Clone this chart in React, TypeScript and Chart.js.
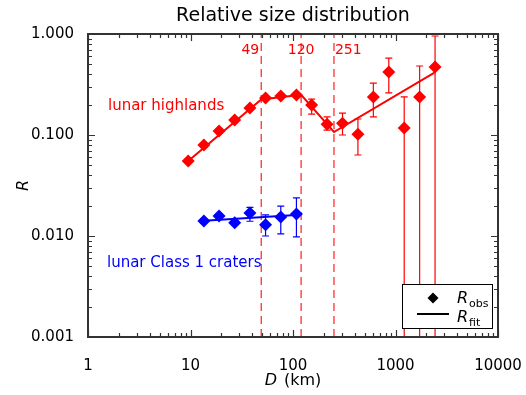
import React, { useEffect, useRef } from 'react';
import { Chart, registerables } from 'chart.js';

Chart.register(...registerables);

// ---- data ----
const diameters = [9.5, 13.5, 19, 27, 38, 54, 76, 108, 152, 215, 304, 430, 608, 860, 1216, 1720, 2432];
const highlandsR = [0.0553, 0.0796, 0.1096, 0.141, 0.185, 0.232, 0.243, 0.249, 0.198, 0.128, 0.131, 0.102, 0.238, 0.421, 0.117, 0.238, 0.471];
const highlandsLo = [0.053, 0.076, 0.105, 0.136, 0.179, 0.225, 0.236, 0.241, 0.161, 0.112, 0.100, 0.0634, 0.151, 0.261, 0.00001, 0.00001, 0.00001];
const highlandsHi = [0.058, 0.083, 0.114, 0.146, 0.191, 0.239, 0.250, 0.257, 0.227, 0.151, 0.165, 0.144, 0.327, 0.578, 0.238, 0.482, 0.955];

const class1D = [13.5, 19, 27, 38, 54, 76, 108];
const class1R = [0.0141, 0.0158, 0.0135, 0.0169, 0.0129, 0.0154, 0.0165];
const class1Lo = [0.0135, 0.0151, 0.0129, 0.0140, 0.0100, 0.0105, 0.0098];
const class1Hi = [0.0148, 0.0166, 0.0142, 0.0192, 0.0162, 0.0198, 0.0238];

const highlandsFitD = [9.5, 49, 120, 251, 2400];
const highlandsFitR = [0.0553, 0.225, 0.25, 0.107, 0.415];
const class1FitD = [12.4, 117];
const class1FitR = [0.0141, 0.0162];

const breakD = [49, 120, 251];
const breakLabels = ['49', '120', '251'];

const xTickValues = [1, 10, 100, 1000, 10000];
const xTickLabels = ['1', '10', '100', '1000', '10000'];
const yTickValues = [0.001, 0.01, 0.1, 1];
const yTickLabels = ['0.001', '0.010', '0.100', '1.000'];

const RED = '#ff0000';
const BLUE = '#0000ff';
const AXIS = '#333333';
const FONT = '"DejaVu Sans", sans-serif';

const logTicks = (decades: number[]) => {
  const out: { value: number }[] = [];
  for (let i = 0; i < decades.length - 1; i++) {
    for (let k = 1; k <= 9; k++) out.push({ value: k * decades[i] });
  }
  out.push({ value: decades[decades.length - 1] });
  return out;
};

const labelFor = (values: number[], labels: string[]) => (v: number | string) => {
  const n = Number(v);
  const i = values.findIndex((t) => Math.abs(Math.log10(t) - Math.log10(n)) < 1e-6);
  return i >= 0 ? labels[i] : '';
};

const isMajor = (v: number) => Math.abs(Math.log10(v) - Math.round(Math.log10(v))) < 1e-6;

const pts = (xs: number[], ys: number[]) => xs.map((x, i) => ({ x, y: ys[i] }));

const overlay = {
  id: 'overlay',
  beforeDatasetsDraw(chart: any) {
    const { ctx, chartArea: a, scales } = chart;
    const x = scales.x, y = scales.y;
    ctx.save();
    ctx.beginPath();
    ctx.rect(a.left, a.top, a.right - a.left, a.bottom - a.top);
    ctx.clip();
    const drawErr = (ds: number[], lo: number[], hi: number[], color: string) => {
      ctx.strokeStyle = color;
      ctx.lineWidth = 1.2;
      ds.forEach((d, i) => {
        const px = x.getPixelForValue(d);
        const p1 = y.getPixelForValue(lo[i]);
        const p2 = y.getPixelForValue(hi[i]);
        ctx.beginPath();
        ctx.moveTo(px, p1);
        ctx.lineTo(px, p2);
        ctx.moveTo(px - 3.5, p1);
        ctx.lineTo(px + 3.5, p1);
        ctx.moveTo(px - 3.5, p2);
        ctx.lineTo(px + 3.5, p2);
        ctx.stroke();
      });
    };
    drawErr(diameters, highlandsLo, highlandsHi, RED);
    drawErr(class1D, class1Lo, class1Hi, BLUE);
    ctx.restore();
  },
  afterDraw(chart: any) {
    const { ctx, chartArea: a, scales } = chart;
    const x = scales.x, y = scales.y;
    ctx.save();
    // frame
    ctx.strokeStyle = AXIS;
    ctx.lineWidth = 2;
    ctx.strokeRect(a.left, a.top, a.right - a.left, a.bottom - a.top);
    // ticks
    ctx.lineWidth = 1.2;
    ctx.beginPath();
    x.ticks.forEach((t: any) => {
      const px = Math.round(x.getPixelForValue(t.value)) + 0.5;
      const len = isMajor(t.value) ? 7 : 4;
      ctx.moveTo(px, a.bottom);
      ctx.lineTo(px, a.bottom - len);
      ctx.moveTo(px, a.top);
      ctx.lineTo(px, a.top + len);
    });
    y.ticks.forEach((t: any) => {
      const py = Math.round(y.getPixelForValue(t.value)) + 0.5;
      const len = isMajor(t.value) ? 7 : 4;
      ctx.moveTo(a.left, py);
      ctx.lineTo(a.left + len, py);
      ctx.moveTo(a.right, py);
      ctx.lineTo(a.right - len, py);
    });
    ctx.stroke();

    // title
    ctx.fillStyle = '#000';
    ctx.textAlign = 'center';
    ctx.textBaseline = 'alphabetic';
    ctx.font = `19px ${FONT}`;
    ctx.fillText('Relative size distribution', (a.left + a.right) / 2, 21);

    // y title
    ctx.save();
    ctx.translate(28, (a.top + a.bottom) / 2);
    ctx.rotate(-Math.PI / 2);
    ctx.font = `italic 16px ${FONT}`;
    ctx.fillText('R', 0, 0);
    ctx.restore();

    // x title
    ctx.textAlign = 'left';
    ctx.font = `italic 16px ${FONT}`;
    const wD = ctx.measureText('D').width + 7;
    ctx.font = `16px ${FONT}`;
    const wK = ctx.measureText('(km)').width;
    const x0 = (a.left + a.right) / 2 - (wD + wK) / 2;
    ctx.font = `italic 16px ${FONT}`;
    ctx.fillText('D', x0, 385);
    ctx.font = `16px ${FONT}`;
    ctx.fillText('(km)', x0 + wD, 385);

    // break labels
    ctx.fillStyle = RED;
    ctx.font = `14px ${FONT}`;
    const aligns = ['right', 'center', 'left'];
    const offs = [-2, 0, 1];
    breakD.forEach((d, i) => {
      ctx.textAlign = aligns[i];
      ctx.fillText(breakLabels[i], x.getPixelForValue(d) + offs[i], a.top + 20);
    });

    // series labels
    ctx.textAlign = 'left';
    ctx.font = `15px ${FONT}`;
    ctx.fillStyle = RED;
    ctx.fillText('lunar highlands', a.left + 20, 110);
    ctx.fillStyle = BLUE;
    ctx.fillText('lunar Class 1 craters', a.left + 19, 267);

    // legend
    const bl = a.right - 96, bt = a.bottom - 53, br = a.right - 6, bb = a.bottom - 9;
    ctx.fillStyle = '#fff';
    ctx.fillRect(bl, bt, br - bl, bb - bt);
    ctx.strokeStyle = '#000';
    ctx.lineWidth = 1;
    ctx.strokeRect(bl + 0.5, bt + 0.5, br - bl, bb - bt);
    ctx.fillStyle = '#000';
    const cx = bl + 31, cy = bt + 14, r = 5.5;
    ctx.beginPath();
    ctx.moveTo(cx, cy - r);
    ctx.lineTo(cx + r, cy);
    ctx.lineTo(cx, cy + r);
    ctx.lineTo(cx - r, cy);
    ctx.closePath();
    ctx.fill();
    ctx.lineWidth = 2;
    ctx.beginPath();
    ctx.moveTo(bl + 15, bt + 30);
    ctx.lineTo(bl + 47, bt + 30);
    ctx.stroke();
    ctx.font = `italic 16px ${FONT}`;
    ctx.fillText('R', bl + 55, bt + 19);
    ctx.fillText('R', bl + 55, bt + 38);
    ctx.font = `11px ${FONT}`;
    ctx.fillText('obs', bl + 67, bt + 23);
    ctx.fillText('fit', bl + 67, bt + 42);
    ctx.restore();
  },
};

export default function App() {
  const ref = useRef<HTMLCanvasElement>(null);
  useEffect(() => {
    if (!ref.current) return;
    const tickFont = { family: FONT, size: 15 };
    const chart = new Chart(ref.current, {
      type: 'scatter',
      data: {
        datasets: [
          {
            data: pts(diameters, highlandsR),
            pointStyle: 'rectRot',
            pointRadius: 6.5,
            backgroundColor: RED,
            borderWidth: 0,
            showLine: false,
          },
          {
            data: pts(class1D, class1R),
            pointStyle: 'rectRot',
            pointRadius: 6.5,
            backgroundColor: BLUE,
            borderWidth: 0,
            showLine: false,
          },
          {
            data: pts(highlandsFitD, highlandsFitR),
            showLine: true,
            pointRadius: 0,
            borderColor: RED,
            borderWidth: 2,
          },
          {
            data: pts(class1FitD, class1FitR),
            showLine: true,
            pointRadius: 0,
            borderColor: BLUE,
            borderWidth: 2,
          },
          ...breakD.map((d) => ({
            data: [{ x: d, y: yTickValues[0] }, { x: d, y: yTickValues[yTickValues.length - 1] }],
            showLine: true,
            pointRadius: 0,
            borderColor: '#ff3030',
            borderWidth: 1.3,
            borderDash: [8, 5],
          })),
        ],
      },
      options: {
        animation: false,
        responsive: true,
        maintainAspectRatio: false,
        events: [],
        layout: { padding: { top: 34, right: 28, left: 0, bottom: 0 } },
        plugins: { legend: { display: false }, tooltip: { enabled: false }, title: { display: false } },
        scales: {
          x: {
            type: 'logarithmic',
            min: xTickValues[0],
            max: xTickValues[xTickValues.length - 1],
            grid: { display: false },
            border: { display: false },
            ticks: {
              autoSkip: false,
              maxRotation: 0,
              minRotation: 0,
              padding: 12,
              color: '#000',
              font: tickFont,
              callback: labelFor(xTickValues, xTickLabels),
            },
            afterBuildTicks: (s: any) => { s.ticks = logTicks(xTickValues); },
            afterFit: (s: any) => { s.height = 58; s.paddingLeft = 0; s.paddingRight = 0; },
          },
          y: {
            type: 'logarithmic',
            min: yTickValues[0],
            max: yTickValues[yTickValues.length - 1],
            grid: { display: false },
            border: { display: false },
            ticks: {
              autoSkip: false,
              padding: 6,
              color: '#000',
              font: tickFont,
              callback: labelFor(yTickValues, yTickLabels),
            },
            afterBuildTicks: (s: any) => { s.ticks = logTicks(yTickValues); },
            afterFit: (s: any) => { s.width = 88; s.paddingTop = 0; s.paddingBottom = 0; },
          },
        },
      } as any,
      plugins: [overlay],
    });
    return () => chart.destroy();
  }, []);
  return (
    <div style={{ position: 'absolute', left: 0, top: 0, width: 526, height: 395, background: '#fff' }}>
      <canvas ref={ref} />
    </div>
  );
}
